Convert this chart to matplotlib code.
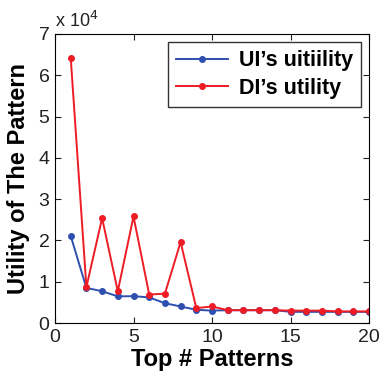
import matplotlib.pyplot as plt

plt.rcParams['font.family'] = ['Liberation Sans', 'DejaVu Sans']

# Top # patterns
top_n = list(range(1, 21))
# utility values, in units of 1e4
ui_utility = [2.11, 0.85, 0.77, 0.645, 0.65, 0.62, 0.48, 0.40, 0.32, 0.30,
              0.31, 0.31, 0.31, 0.31, 0.27, 0.27, 0.27, 0.27, 0.27, 0.27]
di_utility = [6.43, 0.87, 2.54, 0.77, 2.58, 0.69, 0.71, 1.96, 0.36, 0.40,
              0.31, 0.31, 0.31, 0.31, 0.30, 0.30, 0.30, 0.28, 0.28, 0.28]

fig = plt.figure(figsize=(3.79, 3.74), dpi=100)
ax = fig.add_axes([55 / 379, 1 - 323 / 374, 314 / 379, 289 / 374])

ax.plot(top_n, ui_utility, color="#2f4fb0", marker=".", markersize=8,
        linewidth=1.4, label="UI\u2019s uitiility")
ax.plot(top_n, di_utility, color="#ee1c25", marker=".", markersize=8,
        linewidth=1.4, label="DI\u2019s utility")

ax.set_xlim(0, 20)
ax.set_ylim(0, 7)
ax.set_xticks([0, 5, 10, 15, 20])
ax.set_yticks(range(0, 8))
ax.tick_params(direction="in", top=True, right=True, labelsize=14,
               length=4, pad=4, colors="#222222")
for s in ax.spines.values():
    s.set_linewidth(0.8)

ax.text(0.0, 1.01, "x 10$^4$", transform=ax.transAxes, fontsize=13,
        ha="left", va="bottom", color="#222222")

ax.set_xlabel("Top # Patterns", fontsize=17, fontweight="bold", labelpad=2)
ax.set_ylabel("Utility of The Pattern", fontsize=17, fontweight="bold",
              labelpad=6)

leg = ax.legend(loc="upper right", prop={"weight": "bold", "size": 15.5},
                fancybox=False, edgecolor="black", handlelength=2.4,
                borderaxespad=0.35, labelspacing=0.3, handletextpad=0.5,
                borderpad=0.4)
leg.get_frame().set_linewidth(1.0)

fig.savefig("out.png", dpi=100)
